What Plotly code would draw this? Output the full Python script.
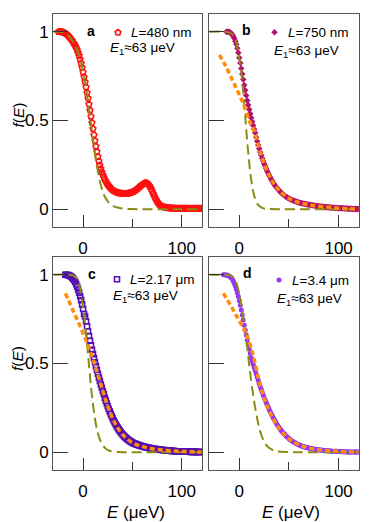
import plotly.graph_objects as go
from plotly.subplots import make_subplots

# ---- data ----
# panel a : L = 480 nm
E_a = list(range(-25, 121))
f_a = [1.000, 1.000, 1.000, 0.999, 0.998, 0.997, 0.995, 0.992, 0.988, 0.983,
       0.977, 0.971, 0.964, 0.957, 0.949, 0.940, 0.931, 0.921, 0.910, 0.897,
       0.882, 0.865, 0.845, 0.822, 0.798, 0.772, 0.745, 0.717, 0.688, 0.657,
       0.625, 0.592, 0.558, 0.523, 0.488, 0.453, 0.419, 0.386, 0.354, 0.324,
       0.296, 0.271, 0.248, 0.228, 0.210, 0.194, 0.180, 0.168, 0.157, 0.147,
       0.139, 0.131, 0.124, 0.118, 0.113, 0.108, 0.104, 0.101, 0.098, 0.096,
       0.094, 0.092, 0.091, 0.090, 0.089, 0.088, 0.088, 0.088, 0.088, 0.088,
       0.089, 0.090, 0.091, 0.093, 0.095, 0.097, 0.100, 0.103, 0.107, 0.111,
       0.115, 0.120, 0.125, 0.130, 0.135, 0.139, 0.143, 0.146, 0.148, 0.148,
       0.146, 0.141, 0.134, 0.125, 0.114, 0.102, 0.089, 0.076, 0.064, 0.053,
       0.043, 0.035, 0.028, 0.023, 0.019, 0.016, 0.014, 0.012, 0.011, 0.010,
       0.009, 0.008, 0.007, 0.007, 0.006, 0.006, 0.005, 0.005, 0.005, 0.004,
       0.004, 0.004, 0.004, 0.004, 0.004, 0.004, 0.004, 0.004, 0.004, 0.004,
       0.004, 0.003, 0.004, 0.003, 0.004, 0.003, 0.004, 0.003, 0.004, 0.003,
       0.004, 0.003, 0.004, 0.003, 0.004, 0.003]
Ecold_a = [-30, -25, -20, -16, -12, -9, -6, -4, -2, 0, 2, 4, 6, 8, 10, 12, 14, 16,
           18, 20, 22, 25, 28, 32, 36, 40, 50, 60, 80, 100, 120]
fcold_a = [1.0, 1.0, 0.997, 0.985, 0.958, 0.935, 0.90, 0.868, 0.825, 0.775, 0.715,
           0.645, 0.565, 0.48, 0.395, 0.315, 0.245, 0.185, 0.135, 0.097, 0.07,
           0.045, 0.028, 0.015, 0.008, 0.004, 0.001, 0, 0, 0, 0]

# panel b : L = 750 nm
E_b = list(range(-13, 121))
f_b = [1.000, 1.000, 1.000, 0.998, 0.995, 0.990, 0.983, 0.974, 0.962, 0.947,
       0.929, 0.907, 0.882, 0.854, 0.824, 0.793, 0.762, 0.731, 0.700, 0.670,
       0.641, 0.613, 0.587, 0.562, 0.538, 0.515, 0.493, 0.472, 0.451, 0.431,
       0.405, 0.383, 0.362, 0.342, 0.323, 0.305, 0.288, 0.272, 0.257, 0.243,
       0.229, 0.216, 0.204, 0.192, 0.181, 0.170, 0.160, 0.151, 0.142, 0.134,
       0.126, 0.119, 0.112, 0.106, 0.100, 0.094, 0.089, 0.084, 0.079, 0.075,
       0.071, 0.067, 0.064, 0.061, 0.058, 0.055, 0.052, 0.050, 0.048, 0.046,
       0.044, 0.042, 0.040, 0.038, 0.037, 0.035, 0.034, 0.033, 0.031, 0.030,
       0.029, 0.028, 0.027, 0.026, 0.025, 0.024, 0.023, 0.022, 0.021, 0.020,
       0.019, 0.018, 0.018, 0.017, 0.016, 0.015, 0.015, 0.014, 0.013, 0.013,
       0.012, 0.012, 0.011, 0.011, 0.010, 0.010, 0.009, 0.009, 0.008, 0.008,
       0.007, 0.007, 0.007, 0.006, 0.006, 0.006, 0.005, 0.005, 0.005, 0.004,
       0.004, 0.004, 0.004, 0.003, 0.003, 0.003, 0.003, 0.002, 0.002, 0.002,
       0.002, 0.002, 0.001, 0.001]
Ecold_b = [-30, -15, -10, -6, -3, 0, 2, 4, 6, 8, 10, 12, 14, 16, 18, 20, 23, 26,
           30, 40, 60, 80, 100, 120]
fcold_b = [1.0, 1.0, 0.995, 0.98, 0.94, 0.85, 0.77, 0.66, 0.52, 0.38, 0.26, 0.165,
           0.10, 0.058, 0.032, 0.018, 0.008, 0.003, 0.001, 0, 0, 0, 0, 0]
Ehot_b = [-20, -15, -10, -5, 0, 5, 10, 15, 20, 25, 30, 35, 40, 50, 60, 70, 80, 90,
          100, 110, 120]
fhot_b = [0.87, 0.82, 0.765, 0.705, 0.645, 0.58, 0.50, 0.44, 0.342, 0.257, 0.192,
          0.142, 0.106, 0.061, 0.038, 0.026, 0.017, 0.011, 0.006, 0.003, 0.001]

# panel c : L = 2.17 um
E_c = list(range(-18, 121))
f_c = [1.000, 1.000, 0.999, 0.998, 0.996, 0.993, 0.989, 0.984, 0.977, 0.969,
       0.959, 0.947, 0.933, 0.917, 0.899, 0.879, 0.857, 0.833, 0.807, 0.779,
       0.765, 0.738, 0.710, 0.682, 0.655, 0.628, 0.602, 0.577, 0.553, 0.530,
       0.507, 0.485, 0.463, 0.442, 0.421, 0.401, 0.382, 0.363, 0.345, 0.328,
       0.308, 0.291, 0.275, 0.259, 0.244, 0.230, 0.216, 0.203, 0.191, 0.179,
       0.168, 0.158, 0.148, 0.139, 0.130, 0.122, 0.114, 0.107, 0.100, 0.094,
       0.088, 0.083, 0.078, 0.073, 0.069, 0.065, 0.061, 0.058, 0.054, 0.051,
       0.049, 0.047, 0.045, 0.043, 0.041, 0.039, 0.037, 0.036, 0.034, 0.032,
       0.031, 0.029, 0.028, 0.027, 0.026, 0.024, 0.023, 0.022, 0.021, 0.020,
       0.019, 0.018, 0.018, 0.017, 0.016, 0.015, 0.015, 0.014, 0.013, 0.013,
       0.012, 0.011, 0.011, 0.010, 0.010, 0.009, 0.009, 0.008, 0.008, 0.007,
       0.007, 0.007, 0.006, 0.006, 0.006, 0.005, 0.005, 0.005, 0.004, 0.004,
       0.004, 0.004, 0.003, 0.003, 0.003, 0.003, 0.003, 0.002, 0.002, 0.002,
       0.002, 0.002, 0.002, 0.001, 0.001, 0.001, 0.001, 0.001, 0.001]
Ecold_c = [-30, -15, -10, -6, -3, 0, 2, 4, 6, 8, 10, 12, 14, 16, 18, 20, 23, 26,
           30, 35, 40, 60, 80, 100, 120]
fcold_c = [1.0, 1.0, 0.995, 0.975, 0.92, 0.81, 0.72, 0.61, 0.49, 0.37, 0.27, 0.19,
           0.13, 0.088, 0.058, 0.038, 0.02, 0.01, 0.004, 0.001, 0, 0, 0, 0, 0]
Ehot_c = [-18, -15, -10, -5, 0, 5, 10, 15, 20, 25, 30, 35, 40, 50, 60, 70, 80, 90,
          100, 110, 120]
fhot_c = [0.895, 0.86, 0.795, 0.735, 0.67, 0.60, 0.525, 0.435, 0.345, 0.258, 0.19,
          0.138, 0.10, 0.053, 0.033, 0.02, 0.013, 0.008, 0.005, 0.003, 0.001]

# panel d : L = 3.4 um
E_d = list(range(-16, 121))
f_d = [1.000, 1.000, 0.999, 0.998, 0.997, 0.995, 0.992, 0.988, 0.982, 0.974,
       0.964, 0.951, 0.936, 0.919, 0.899, 0.877, 0.853, 0.828, 0.801, 0.773,
       0.745, 0.716, 0.688, 0.660, 0.632, 0.605, 0.580, 0.556, 0.533, 0.511,
       0.495, 0.477, 0.459, 0.441, 0.423, 0.405, 0.388, 0.371, 0.355, 0.339,
       0.324, 0.309, 0.295, 0.281, 0.268, 0.255, 0.242, 0.230, 0.218, 0.207,
       0.196, 0.186, 0.176, 0.166, 0.157, 0.148, 0.140, 0.132, 0.124, 0.117,
       0.110, 0.104, 0.098, 0.092, 0.087, 0.082, 0.077, 0.072, 0.068, 0.064,
       0.060, 0.057, 0.053, 0.050, 0.047, 0.045, 0.042, 0.040, 0.037, 0.035,
       0.033, 0.031, 0.030, 0.028, 0.026, 0.025, 0.024, 0.022, 0.021, 0.020,
       0.019, 0.018, 0.017, 0.016, 0.015, 0.014, 0.014, 0.013, 0.012, 0.011,
       0.011, 0.010, 0.010, 0.009, 0.009, 0.008, 0.008, 0.007, 0.007, 0.006,
       0.006, 0.006, 0.005, 0.005, 0.005, 0.004, 0.004, 0.004, 0.004, 0.003,
       0.003, 0.003, 0.003, 0.003, 0.002, 0.002, 0.002, 0.002, 0.002, 0.002,
       0.002, 0.001, 0.001, 0.001, 0.001, 0.001, 0.001]
Ecold_d = [-30, -15, -10, -6, -3, 0, 2, 4, 6, 8, 10, 12, 14, 16, 18, 20, 22, 25,
           28, 32, 36, 40, 50, 60, 80, 100, 120]
fcold_d = [1.0, 1.0, 0.997, 0.985, 0.955, 0.89, 0.83, 0.76, 0.68, 0.59, 0.49, 0.40,
           0.32, 0.25, 0.19, 0.14, 0.10, 0.06, 0.035, 0.017, 0.008, 0.004, 0.001,
           0, 0, 0, 0]
Ehot_d = [-16, -12, -8, -4, 0, 4, 8, 12, 16, 20, 25, 30, 35, 40, 50, 60, 70, 80,
          90, 100, 110, 120]
fhot_d = [0.895, 0.858, 0.82, 0.78, 0.74, 0.70, 0.655, 0.585, 0.50, 0.40, 0.305,
          0.235, 0.18, 0.135, 0.075, 0.042, 0.024, 0.014, 0.008, 0.005, 0.003, 0.001]

lengths = ["<i>L</i>=480 nm", "<i>L</i>=750 nm", "<i>L</i>=2.17 μm", "<i>L</i>=3.4 μm"]
letters = ["a", "b", "c", "d"]

# page body has an 8px margin, so the figure is drawn 8px smaller and
# positions below are given in window pixels
OFF = 8
W, H = 374 - OFF, 522 - OFF


def px(x):
    return (x - OFF) / W


def py(y):
    return 1 - (y - OFF) / H


FONT = "Liberation Sans, Arial, sans-serif"
OLIVE = "#8c8c12"
ORANGE = "#ff8c0a"

fig = make_subplots(rows=2, cols=2)

panels = [
    (1, 1, E_a, f_a, dict(symbol="pentagon-open", color="#ff1010", size=6, line=dict(width=1.6)),
     Ecold_a, fcold_a, None, None),
    (1, 2, E_b, f_b, dict(symbol="diamond", color="#b3126e", size=5),
     Ecold_b, fcold_b, Ehot_b, fhot_b),
    (2, 1, E_c, f_c, dict(symbol="square-open", color="#5410b0", size=5, line=dict(width=1.6)),
     Ecold_c, fcold_c, Ehot_c, fhot_c),
    (2, 2, E_d, f_d, dict(symbol="circle", color="#9636f5", size=5),
     Ecold_d, fcold_d, Ehot_d, fhot_d),
]

for i, (r, c, E, f, mk, Ec, fc, Eh, fh) in enumerate(panels):
    lg = "legend" if i == 0 else "legend%d" % (i + 1)
    fig.add_trace(go.Scatter(x=E, y=f, mode="markers", marker=mk, name=" ",
                             showlegend=True, legend=lg), row=r, col=c)
    fig.add_trace(go.Scatter(x=Ec, y=fc, mode="lines", line_shape="spline",
                             line=dict(color=OLIVE, width=2, dash="10px,5px"),
                             showlegend=False), row=r, col=c)
    if Eh is not None:
        fig.add_trace(go.Scatter(x=Eh, y=fh, mode="lines", line_shape="spline",
                                 line=dict(color=ORANGE, width=3.5, dash="5px,3px"),
                                 showlegend=False), row=r, col=c)

xdom = [[px(53), px(202)], [px(209), px(359)]]
ydom = [[py(227), py(14)], [py(470), py(257)]]

axis_common = dict(showgrid=False, zeroline=False, showline=True, linecolor="#555",
                   linewidth=1, mirror=True, ticks="inside", tickcolor="#333",
                   tickfont=dict(family=FONT, size=17, color="black"))

for i in range(4):
    r, c = i // 2, i % 2
    xa = "xaxis" if i == 0 else "xaxis%d" % (i + 1)
    ya = "yaxis" if i == 0 else "yaxis%d" % (i + 1)
    fig.layout[xa].update(domain=xdom[c], range=[-30.5, 120.5], tickvals=[0, 100],
                          ticklen=12, tickwidth=1, ticklabelstandoff=6,
                          minor=dict(tickvals=[50], ticklen=8, ticks="inside",
                                     tickcolor="#333"),
                          **axis_common)
    fig.layout[ya].update(domain=ydom[r], range=[-0.1, 1.1], tickvals=[0, 0.5, 1],
                          ticktext=["0", "0.5", "1"], ticklen=15, tickwidth=1,
                          showticklabels=(c == 0), **axis_common)

# legends holding only the marker symbol
leg_pos = [(118, 32.5), (274.5, 32.3), (117, 279.3), (279, 280)]
for i, (lx, ly) in enumerate(leg_pos):
    lg = "legend" if i == 0 else "legend%d" % (i + 1)
    fig.layout[lg] = dict(x=px(lx - 20), y=py(ly), xanchor="left",
                          yanchor="middle", bgcolor="rgba(0,0,0,0)",
                          borderwidth=0, itemwidth=30,
                          font=dict(family=FONT, size=12), tracegroupgap=0)

ann = []
let_pos = [(90.5, 30.7), (247, 30), (92, 273.5), (247.5, 273)]
for t, (x, y) in zip(letters, let_pos):
    ann.append(dict(text="<b>%s</b>" % t, x=px(x), y=py(y), xref="paper",
                    yref="paper", showarrow=False, xanchor="center", yanchor="middle",
                    font=dict(family=FONT, size=14, color="black")))

txt_pos = [(129, 32.5), (285.5, 32.3), (127.5, 279.3), (290, 280)]
e1_pos = [(107.5, 49), (272, 51.5), (110.5, 296.7), (274.5, 299.3)]
for t, (x, y), (x2, y2) in zip(lengths, txt_pos, e1_pos):
    ann.append(dict(text=t, x=px(x), y=py(y), xref="paper", yref="paper",
                    showarrow=False, xanchor="left", yanchor="middle",
                    font=dict(family=FONT, size=13.5, color="black")))
    ann.append(dict(text="<i>E</i><sub>1</sub>≈63 μeV", x=px(x2), y=py(y2),
                    xref="paper", yref="paper", showarrow=False, xanchor="left",
                    yanchor="middle", font=dict(family=FONT, size=13.5, color="black")))

# y titles: the reference puts them at x~8, which is the page margin here,
# so they sit just inside the drawable area
for y in (115, 358.5):
    ann.append(dict(text="<i>f</i>(<i>E</i>)", x=px(8), y=py(y), xref="paper",
                    yref="paper", showarrow=False, textangle=-90, xanchor="left",
                    yanchor="middle", borderpad=0,
                    font=dict(family=FONT, size=15.5, color="black")))
for x in (136, 291):
    ann.append(dict(text="<i>E</i> (μeV)", x=px(x), y=py(512), xref="paper",
                    yref="paper", showarrow=False, xanchor="center", yanchor="middle",
                    font=dict(family=FONT, size=17, color="black")))

fig.update_layout(width=W, height=H, margin=dict(l=0, r=0, t=0, b=0),
                  plot_bgcolor="white", paper_bgcolor="white", annotations=ann,
                  font=dict(family=FONT))

fig.write_html("out.html")
